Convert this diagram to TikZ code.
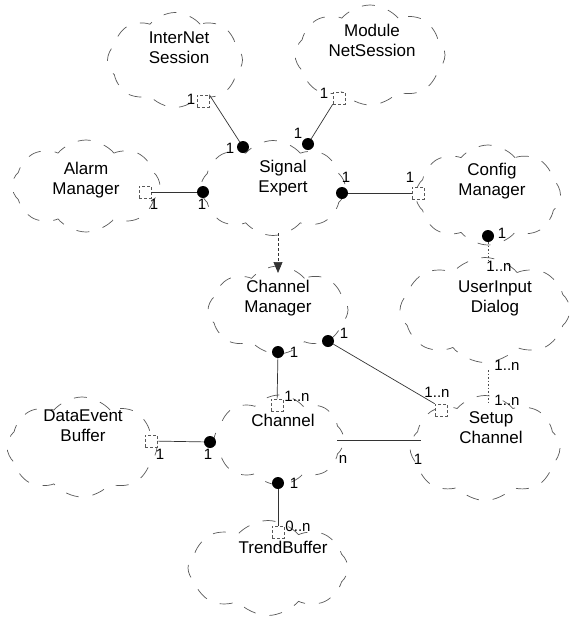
\documentclass[tikz,border=0pt]{standalone}
\usepackage{fontspec}
\setmainfont{Liberation Sans}
\usetikzlibrary{shapes.symbols,arrows.meta}
\begin{document}
\begin{tikzpicture}[x=1pt,y=-1pt,
  cls/.style={cloud, cloud puffs=8, cloud puff arc=100, cloud ignores aspect, draw=black!65,
    dash pattern=on 13pt off 14pt, line width=0.7pt, inner sep=0pt},
  nm/.style={align=center, font=\fontsize{17}{20}\selectfont, inner sep=0pt},
  lb/.style={font=\fontsize{15}{15}\selectfont, inner sep=0pt},
  whole/.style={circle, fill=black, inner sep=0pt, minimum size=12pt},
  part/.style={rectangle, draw=black!65, densely dashed, line width=0.6pt, fill=white, inner sep=0pt, minimum size=12pt},
  assoc/.style={draw=black!80, line width=0.7pt},
  dep/.style={draw=black!80, line width=0.7pt, dash pattern=on 3pt off 2pt},
  dots/.style={draw=black!70, line width=0.7pt, dash pattern=on 1.5pt off 2pt},
]
\useasboundingbox (0,0) rectangle (574,619);

% clouds
\node[cls, minimum width=135pt, minimum height=95pt] (isC) at (175,60) {};
\node[cls, minimum width=150pt, minimum height=100pt] (mnC) at (370,55) {};
\node[cls, minimum width=148pt, minimum height=92pt] (amC) at (86,186) {};
\node[cls, minimum width=145pt, minimum height=95pt] (seC) at (273,188) {};
\node[cls, minimum width=145pt, minimum height=100pt] (cmC) at (488,195) {};
\node[cls, minimum width=140pt, minimum height=88pt] (chmC) at (278,310) {};
\node[cls, minimum width=170pt, minimum height=105pt] (uiC) at (485,310) {};
\node[cls, minimum width=150pt, minimum height=100pt] (deC) at (82,447) {};
\node[cls, minimum width=130pt, minimum height=90pt] (chC) at (279,440) {};
\node[cls, minimum width=150pt, minimum height=105pt] (scC) at (485,448) {};
\node[cls, minimum width=160pt, minimum height=95pt] (tbC) at (268,568) {};

% names
\node[nm] (isT) at (179,48) {InterNet\\Session};
\node[nm] (mnT) at (372,40) {Module\\NetSession};
\node[nm] (amT) at (86,180) {Alarm\\Manager};
\node[nm] (seT) at (283,178) {Signal\\Expert};
\node[nm] (cmT) at (492,181) {Config\\Manager};
\node[nm] (chmT) at (278,298) {Channel\\Manager};
\node[nm] (uiT) at (495,298) {UserInput\\Dialog};
\node[nm] (deT) at (83,426) {DataEvent\\Buffer};
\node[nm] (chT) at (283,420) {Channel};
\node[nm] (scT) at (491,428) {Setup\\Channel};
\node[nm] (tbT) at (283,547) {TrendBuffer};

% adornments
\node[part] (sqIS) at (203,101) {};
\node[whole] (dIS) at (243,147) {};
\node[part] (sqMN) at (339,98) {};
\node[whole] (dMN) at (308,144) {};
\node[part] (sqAM) at (145,192) {};
\node[whole] (dAM) at (203,192) {};
\node[whole] (dCM) at (342,193) {};
\node[part] (sqCM) at (418,193) {};
\node[whole] (dUI) at (488,236) {};
\coordinate (eUI) at (488,262);
\node[whole] (dCh) at (278,352) {};
\node[part] (sqCh) at (277,405) {};
\node[whole] (dSC) at (328,341) {};
\node[part] (sqSC) at (441,410) {};
\coordinate (uiB) at (488,370);
\coordinate (scT2) at (488,402);
\node[part] (sqDE) at (151,441) {};
\node[whole] (dDE) at (210,442) {};
\coordinate (chR) at (337,440);
\coordinate (scL) at (421,440);
\node[whole] (dTB) at (278,483) {};
\node[part] (sqTB) at (278,532) {};
\coordinate (seB) at (278,233);
\coordinate (chmTop) at (278,273);

% connectors
\draw[assoc] (sqIS.north east) -- (dIS);
\draw[assoc] (sqMN.south west) -- (dMN);
\draw[assoc] (sqAM) -- (dAM);
\draw[assoc] (dCM) -- (sqCM);
\draw[dots] (dUI) -- (eUI);
\draw[assoc] (dCh) -- (sqCh);
\draw[assoc] (dSC) -- (sqSC.north west);
\draw[dots] (uiB) -- (scT2);
\draw[assoc] (sqDE) -- (dDE);
\draw[assoc] (chR) -- (scL);
\draw[assoc] (dTB) -- (sqTB);
\draw[dep, -{Triangle[length=11pt,width=9pt]}] (seB) -- (chmTop);

% multiplicities
\node[lb] at (191,99) {1};
\node[lb] at (230,148) {1};
\node[lb] at (324,93) {1};
\node[lb] at (298,133) {1};
\node[lb] at (154,204) {1};
\node[lb] at (202,204) {1};
\node[lb] at (346,177) {1};
\node[lb] at (410,177) {1};
\node[lb] at (502,233) {1};
\node[lb] at (499,266) {1..n};
\node[lb] at (294,352) {1};
\node[lb] at (297,396) {1..n};
\node[lb] at (344,333) {1};
\node[lb] at (437,392) {1..n};
\node[lb] at (507,365) {1..n};
\node[lb] at (507,400) {1..n};
\node[lb] at (160,454) {1};
\node[lb] at (208,454) {1};
\node[lb] at (343,459) {n};
\node[lb] at (418,459) {1};
\node[lb] at (294,483) {1};
\node[lb] at (298,526) {0..n};
\end{tikzpicture}
\end{document}
